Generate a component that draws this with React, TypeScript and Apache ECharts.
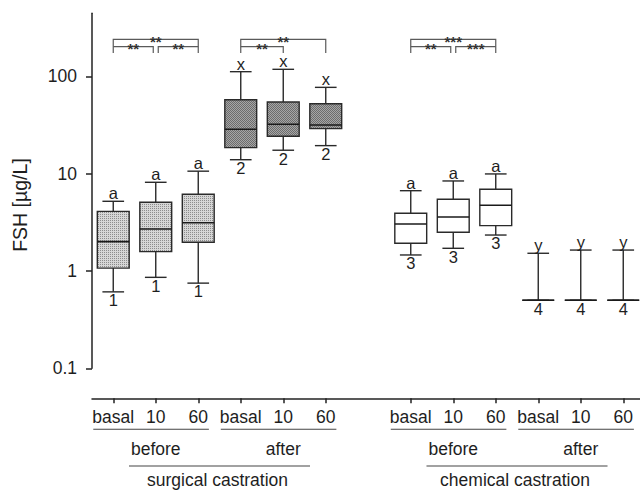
import React, { useEffect, useRef } from 'react';
import * as echarts from 'echarts';

// ---------- data ----------
const categoryKeys = ['sb-basal', 'sb-10', 'sb-60', 'sa-basal', 'sa-10', 'sa-60', 'gap', 'cb-basal', 'cb-10', 'cb-60', 'ca-basal', 'ca-10', 'ca-60'];
const tickLabels = ['basal', '10', '60', 'basal', '10', '60', '', 'basal', '10', '60', 'basal', '10', '60'];
const yTicks = [0.1, 1, 10, 100];

const boxCategory = [0, 1, 2, 3, 4, 5, 7, 8, 9, 10, 11, 12];
const whiskerLow = [0.61, 0.86, 0.75, 13.9, 17.4, 19.4, 1.46, 1.71, 2.34, 0.5, 0.5, 0.5];
const q1 = [1.07, 1.58, 1.97, 18.5, 24.2, 29, 1.93, 2.5, 2.92, 0.5, 0.5, 0.5];
const median = [2.0, 2.7, 3.13, 28.6, 32.2, 31.6, 3.04, 3.59, 4.73, 0.5, 0.5, 0.5];
const q3 = [4.1, 5.08, 6.14, 57.5, 54.5, 52.3, 3.92, 5.45, 6.9, 0.5, 0.5, 0.5];
const whiskerHigh = [5.2, 8.15, 10.6, 111.6, 118, 77, 6.68, 8.41, 9.93, 1.52, 1.64, 1.64];
const letters = ['a', 'a', 'a', 'x', 'x', 'x', 'a', 'a', 'a', 'y', 'y', 'y'];
const groupNumbers = ['1', '1', '1', '2', '2', '2', '3', '3', '3', '4', '4', '4'];
const fillKind = [0, 0, 0, 1, 1, 1, 2, 2, 2, 2, 2, 2];

const bracketFrom = [0, 3, 7];
const bracketMid = [1, 4, 8];
const bracketTo = [2, 5, 9];
const outerStars = ['**', '**', '***'];
const leftStars = ['**', '**', '**'];
const rightStars = ['**', '', '***'];

const subGroupLabels = ['before', 'after', 'before', 'after'];
const subGroupStart = [0, 3, 7, 10];
const subGroupEnd = [2, 5, 9, 12];
const mainGroupLabels = ['surgical castration', 'chemical castration'];
const mainGroupStart = [0, 7];
const mainGroupEnd = [5, 12];

// ---------- style ----------
const FONT = "'Liberation Sans', Arial, Helvetica, sans-serif";
const INK = '#1e1e1e';
const AXIS_OFFSET = 30;

function makePattern(bg: string, dot: string, size: number, checker: boolean): any {
  const c = document.createElement('canvas');
  c.width = size;
  c.height = size;
  const ctx = c.getContext('2d');
  if (!ctx) return bg;
  ctx.fillStyle = bg;
  ctx.fillRect(0, 0, size, size);
  ctx.fillStyle = dot;
  if (checker) {
    const h = size / 2;
    ctx.fillRect(0, 0, h, h);
    ctx.fillRect(h, h, h, h);
  } else {
    ctx.fillRect(0, 0, 1, 1);
  }
  return { image: c, repeat: 'repeat' };
}

export default function App() {
  const ref = useRef<HTMLDivElement>(null);

  useEffect(() => {
    document.body.style.margin = '0';
    if (!ref.current) return;
    const chart = echarts.init(ref.current, null, { renderer: 'svg' });

    const fills = [
      makePattern('#d6d6d6', '#8c8c8c', 2, false),
      makePattern('#a6a6a6', '#6c6c6c', 2, true),
      '#ffffff',
    ];

    const boxData = boxCategory.map((c, i) => [c, whiskerLow[i], q1[i], median[i], q3[i], whiskerHigh[i], i]);

    const renderBox = (params: any, api: any) => {
      const cat = api.value(0);
      const idx = api.value(6);
      const bw = api.size([1, 1], [cat, 1])[0];
      const cx = api.coord([cat, 1])[0];
      const yLow = api.coord([cat, api.value(1)])[1];
      const yQ1 = api.coord([cat, api.value(2)])[1];
      const yMed = api.coord([cat, api.value(3)])[1];
      const yQ3 = api.coord([cat, api.value(4)])[1];
      const yHigh = api.coord([cat, api.value(5)])[1];
      const boxW = bw * 0.75;
      const capW = bw * 0.51;
      const lineStyle = { stroke: '#2a2a2a', lineWidth: 1.4 };
      return {
        type: 'group',
        children: [
          { type: 'line', shape: { x1: cx, y1: yHigh, x2: cx, y2: yQ3 }, style: lineStyle },
          { type: 'line', shape: { x1: cx, y1: yQ1, x2: cx, y2: yLow }, style: lineStyle },
          { type: 'line', shape: { x1: cx - capW / 2, y1: yHigh, x2: cx + capW / 2, y2: yHigh }, style: lineStyle },
          { type: 'line', shape: { x1: cx - capW / 2, y1: yLow, x2: cx + capW / 2, y2: yLow }, style: lineStyle },
          {
            type: 'rect',
            shape: { x: cx - boxW / 2, y: yQ3, width: boxW, height: yQ1 - yQ3 },
            style: { fill: fills[fillKind[idx]], stroke: '#2a2a2a', lineWidth: 1.4 },
          },
          { type: 'line', shape: { x1: cx - boxW / 2, y1: yMed, x2: cx + boxW / 2, y2: yMed }, style: { stroke: '#1a1a1a', lineWidth: 1.6 } },
          {
            type: 'text', x: cx, y: yHigh - 8,
            style: { text: letters[idx], fill: INK, fontSize: 16.5, fontFamily: FONT, align: 'center', verticalAlign: 'middle' },
          },
          {
            type: 'text', x: cx, y: yLow + 8.3,
            style: { text: groupNumbers[idx], fill: INK, fontSize: 16.5, fontFamily: FONT, align: 'center', verticalAlign: 'middle' },
          },
        ],
      };
    };

    const renderAnnotations = (params: any, api: any) => {
      const cs = params.coordSys;
      const top = cs.y;
      const axisY = cs.y + cs.height + AXIS_OFFSET;
      const bw = api.size([1, 1], [0, 1])[0];
      const xOf = (c: number) => api.coord([c, 1])[0];
      const bracketStyle = { stroke: '#5a5a5a', lineWidth: 1.2 };
      const groupLine = { stroke: '#444', lineWidth: 1.1 };
      const children: any[] = [];
      const yOuter = top + 26;
      const yInner = top + 33.4;
      const yBottom = top + 39.7;
      const starText = (text: string, x: number, y: number) => ({
        type: 'text', x, y,
        style: { text, fill: '#333', fontSize: 15, fontWeight: 'bold', fontFamily: FONT, align: 'center', verticalAlign: 'middle' },
      });
      bracketFrom.forEach((from, g) => {
        const x0 = xOf(from);
        const xm = xOf(bracketMid[g]);
        const x2 = xOf(bracketTo[g]);
        const hasRight = rightStars[g] !== '';
        const gap = hasRight ? 2.5 : 0;
        children.push({ type: 'polyline', shape: { points: [[x0, yBottom], [x0, yOuter], [x2, yOuter], [x2, yBottom]] }, style: { ...bracketStyle, fill: null } });
        children.push({ type: 'polyline', shape: { points: [[x0, yInner], [xm - gap, yInner], [xm - gap, yBottom]] }, style: { ...bracketStyle, fill: null } });
        children.push(starText(outerStars[g], xm, yOuter + 2));
        children.push(starText(leftStars[g], (x0 + xm - gap) / 2, yInner + 1.3));
        if (hasRight) {
          children.push({ type: 'polyline', shape: { points: [[xm + gap, yBottom], [xm + gap, yInner], [x2, yInner]] }, style: { ...bracketStyle, fill: null } });
          children.push(starText(rightStars[g], (xm + gap + x2) / 2, yInner + 1.3));
        }
      });
      subGroupLabels.forEach((label, g) => {
        const xs = xOf(subGroupStart[g]);
        const xe = xOf(subGroupEnd[g]);
        const xm = (xs + xe) / 2;
        children.push({ type: 'line', shape: { x1: xs - 0.47 * bw, y1: axisY + 31, x2: xe + 0.25 * bw, y2: axisY + 31 }, style: groupLine });
        children.push({
          type: 'text', x: xm, y: axisY + 50.5,
          style: { text: label, fill: INK, fontSize: 17.5, fontFamily: FONT, align: 'center', verticalAlign: 'middle' },
        });
      });
      mainGroupLabels.forEach((label, g) => {
        const xs = xOf(mainGroupStart[g]);
        const xe = xOf(mainGroupEnd[g]);
        const xm = (xs + xe) / 2;
        children.push({ type: 'line', shape: { x1: xm - 2.13 * bw, y1: axisY + 67.7, x2: xm + 2.13 * bw, y2: axisY + 67.7 }, style: groupLine });
        children.push({
          type: 'text', x: xm - 2, y: axisY + 81.5,
          style: { text: label, fill: INK, fontSize: 17.5, fontFamily: FONT, align: 'center', verticalAlign: 'middle' },
        });
      });
      return { type: 'group', children };
    };

    chart.setOption({
      animation: false,
      grid: { left: 92, top: 13.3, width: 552.5, height: 355, containLabel: false, outerBoundsMode: 'none' },
      xAxis: {
        type: 'category',
        data: categoryKeys,
        offset: AXIS_OFFSET,
        axisLine: { show: true, lineStyle: { color: '#222', width: 1.5 } },
        axisTick: {
          show: true, alignWithLabel: true, length: 5,
          interval: (i: number) => tickLabels[i] !== '',
          lineStyle: { color: '#222', width: 1.5 },
        },
        axisLabel: {
          interval: 0, margin: 9.5, fontSize: 17.5, color: INK, fontFamily: FONT,
          formatter: (_v: string, i: number) => tickLabels[i],
        },
        splitLine: { show: false },
      },
      yAxis: {
        type: 'log',
        logBase: 10,
        min: 0.1,
        max: 444,
        axisLine: { show: true, lineStyle: { color: '#222', width: 1.5 } },
        axisTick: { show: true, length: 6, customValues: yTicks, lineStyle: { color: '#222', width: 1.5 } },
        axisLabel: {
          customValues: yTicks, margin: 15, fontSize: 17.5, color: INK, fontFamily: FONT,
          formatter: (v: number) => (v < 1 ? v.toFixed(1) : String(Math.round(v))),
        },
        minorTick: { show: false },
        splitLine: { show: false },
      },
      graphic: [
        {
          type: 'text', x: 20, y: 205, rotation: Math.PI / 2,
          style: { text: 'FSH [µg/L]', fill: INK, fontSize: 19.5, fontFamily: FONT, align: 'center', verticalAlign: 'middle' },
        },
      ],
      series: [
        {
          type: 'custom',
          name: 'FSH',
          renderItem: renderBox,
          encode: { x: 0, y: [1, 2, 3, 4, 5] },
          data: boxData,
          clip: false,
          z: 3,
        },
        {
          type: 'custom',
          name: 'annotations',
          renderItem: renderAnnotations,
          encode: { x: 0, y: 1 },
          data: [[0, 1]],
          clip: false,
          silent: true,
          z: 4,
        },
      ],
    });

    return () => chart.dispose();
  }, []);

  return <div ref={ref} style={{ width: 640, height: 492 }} />;
}
